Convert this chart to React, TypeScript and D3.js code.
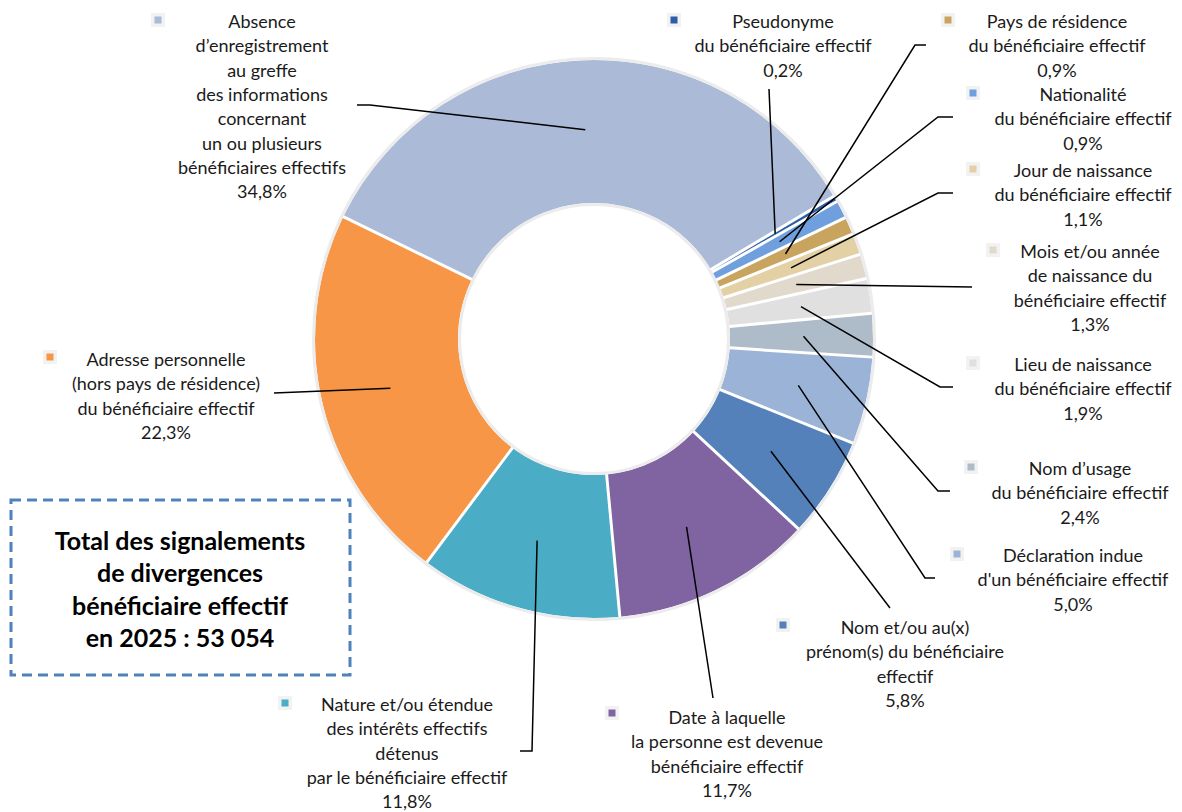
import React from "react";
import * as d3 from "d3";

// ---- Data ----
const categories: string[][] = [
  ["Absence", "d’enregistrement", "au greffe", "des informations", "concernant", "un ou plusieurs", "bénéficiaires effectifs"],
  ["Pseudonyme", "du bénéficiaire effectif"],
  ["Nationalité", "du bénéficiaire effectif"],
  ["Pays de résidence", "du bénéficiaire effectif"],
  ["Jour de naissance", "du bénéficiaire effectif"],
  ["Mois et/ou année", "de naissance du", "bénéficiaire effectif"],
  ["Lieu de naissance", "du bénéficiaire effectif"],
  ["Nom d’usage", "du bénéficiaire effectif"],
  ["Déclaration indue", "d'un bénéficiaire effectif"],
  ["Nom et/ou au(x)", "prénom(s) du bénéficiaire", "effectif"],
  ["Date à laquelle", "la personne est devenue", "bénéficiaire effectif"],
  ["Nature et/ou étendue", "des intérêts effectifs", "détenus", "par le bénéficiaire effectif"],
  ["Adresse personnelle", "(hors pays de résidence)", "du bénéficiaire effectif"],
];
const values: number[] = [34.8, 0.2, 0.9, 0.9, 1.1, 1.3, 1.9, 2.4, 5.0, 5.8, 11.7, 11.8, 22.3];
const valueLabels: string[] = ["34,8%", "0,2%", "0,9%", "0,9%", "1,1%", "1,3%", "1,9%", "2,4%", "5,0%", "5,8%", "11,7%", "11,8%", "22,3%"];
const colors: string[] = [
  "#aabad7", "#2c5da8", "#6f9fdc", "#c9a45f", "#e4d0a5", "#e1d9cc", "#e0e0e0",
  "#aebbc9", "#9bb3d6", "#5581ba", "#8064a2", "#4bacc6", "#f79646",
];
const totalLines: string[] = ["Total des signalements", "de divergences", "bénéficiaire effectif", "en 2025 : 53 054"];

// ---- Layout (label placement, as in the original manual layout) ----
const labelLayout = [
  { tx: 262, ty: 21, mx: 158, my: 20, lead: [[357, 105], [370, 105]] },
  { tx: 783, ty: 21, mx: 674, my: 20, lead: [[769, 89]] },
  { tx: 1083, ty: 94, mx: 973, my: 93, lead: [[953, 117], [938, 117]] },
  { tx: 1057, ty: 21, mx: 948, my: 20, lead: [[926, 45], [915, 45]] },
  { tx: 1083, ty: 170, mx: 973, my: 169, lead: [[953, 193], [938, 193]] },
  { tx: 1090, ty: 251, mx: 993, my: 250, lead: [[972, 287]] },
  { tx: 1083, ty: 364, mx: 973, my: 363, lead: [[953, 387], [940, 387]] },
  { tx: 1080, ty: 468, mx: 971, my: 467, lead: [[950, 491], [938, 491]] },
  { tx: 1073, ty: 555, mx: 957, my: 554, lead: [[935, 578], [925, 578]] },
  { tx: 905, ty: 627, mx: 783, my: 625, lead: [[890, 608]] },
  { tx: 727, ty: 717, mx: 612, my: 713, lead: [[713, 698]] },
  { tx: 407, ty: 704, mx: 285, my: 703, lead: [[520, 751], [532, 751]] },
  { tx: 166, ty: 359, mx: 50, my: 357, lead: [[274, 393]] },
];

const W = 1182;
const H = 812;
const cx = 594;
const cy = 339;
const R = 279;
const r = 136;
const lineH = 24.3;
const FONT = "Lato, 'Open Sans', sans-serif";

export default function App() {
  const startDeg = 296;
  const pie = d3
    .pie<number>()
    .sort(null)
    .value((d) => d)
    .startAngle((startDeg * Math.PI) / 180)
    .endAngle(((startDeg + 360) * Math.PI) / 180)
    .padAngle(0.0095);
  const arcs = pie(values);
  const arc = d3.arc<d3.PieArcDatum<number>>().innerRadius(r).outerRadius(R);
  const mid = d3.arc<d3.PieArcDatum<number>>().innerRadius(r + 2).outerRadius(R + 2);
  const line = d3.line();

  return (
    <svg width={W} height={H} style={{ position: "absolute", left: 0, top: 0, background: "#fff" }} fontFamily={FONT}>
      <g transform={`translate(${cx},${cy})`}>
        {arcs.map((a, i) => (
          <path key={i} d={arc(a) || ""} fill={colors[i]} />
        ))}
        <circle r={R + 1.5} fill="none" stroke="#ececec" strokeWidth={3} />
        <circle r={r - 1.5} fill="none" stroke="#ececec" strokeWidth={3} />
      </g>
      {arcs.map((a, i) => {
        const c = mid.centroid(a);
        const pts = [...labelLayout[i].lead, [cx + c[0], cy + c[1]]] as [number, number][];
        return <path key={"l" + i} d={line(pts) || ""} fill="none" stroke="#000" strokeWidth={1.5} />;
      })}
      {categories.map((lines, i) => {
        const L = labelLayout[i];
        const all = [...lines, valueLabels[i]];
        return (
          <g key={"t" + i}>
            <rect x={L.mx - 7} y={L.my - 7} width={14} height={14} fill="#f2f2f2" />
            <rect x={L.mx - 3.5} y={L.my - 3.5} width={7} height={7} fill={colors[i]} />
            <text textAnchor="middle" fontSize={18} fill="#1a1a1a">
              {all.map((s, j) => (
                <tspan key={j} x={L.tx} y={L.ty + j * lineH} dominantBaseline="central">
                  {s}
                </tspan>
              ))}
            </text>
          </g>
        );
      })}
      <rect x={11} y={500} width={339} height={175} fill="#fff" stroke="#4f81bd" strokeWidth={3} strokeDasharray="10 6" />
      <text textAnchor="middle" fontSize={25} fontWeight="bold" fill="#000">
        {totalLines.map((s, j) => (
          <tspan key={j} x={180} y={540 + j * 32.4} dominantBaseline="central">
            {s}
          </tspan>
        ))}
      </text>
    </svg>
  );
}
